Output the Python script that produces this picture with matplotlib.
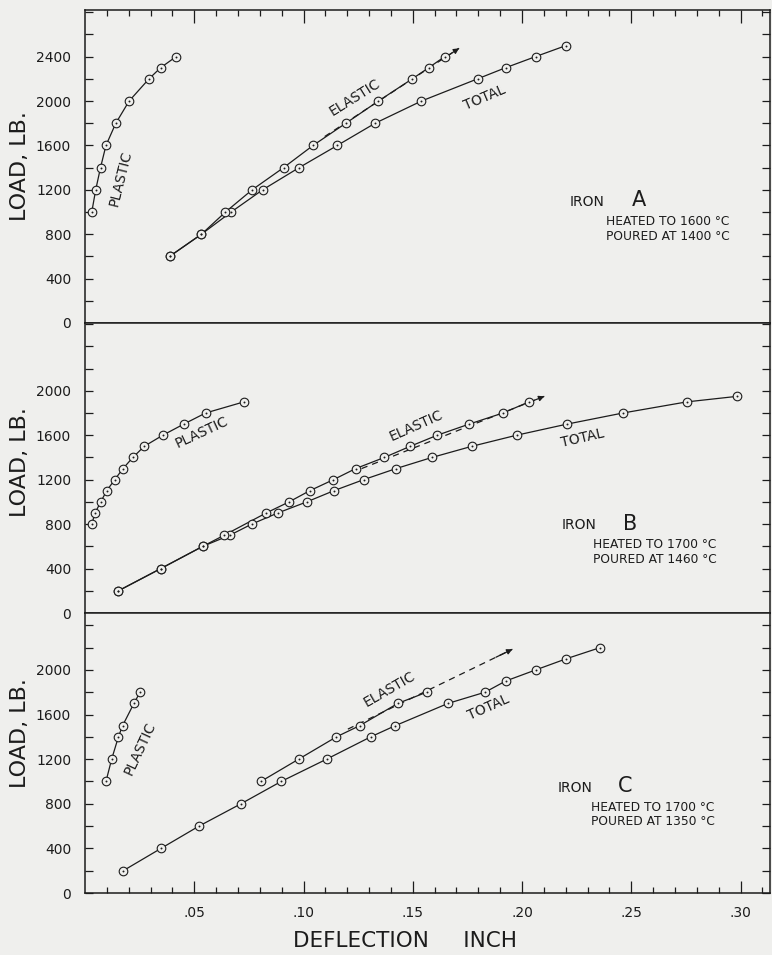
import numpy as np
import matplotlib
matplotlib.use("Agg")
import matplotlib.pyplot as plt
from matplotlib.ticker import FixedLocator, MultipleLocator, FuncFormatter

# ---------------- data (deflection in inches, load in lb) ----------------
# Iron A
a_plastic_x = [0.0031, 0.0049, 0.0071, 0.0096, 0.0141, 0.0202, 0.0293, 0.0346, 0.0417]
a_plastic_y = [1000, 1200, 1400, 1600, 1800, 2000, 2200, 2300, 2400]
a_elastic_x = [0.0387, 0.0533, 0.0643, 0.0765, 0.0909, 0.1044, 0.1194, 0.1343, 0.1498, 0.1573, 0.1646]
a_elastic_y = [600, 800, 1000, 1200, 1400, 1600, 1800, 2000, 2200, 2300, 2400]
a_total_x = [0.0387, 0.0533, 0.0669, 0.0813, 0.0980, 0.1155, 0.1328, 0.1540, 0.1797, 0.1925, 0.2062, 0.2202]
a_total_y = [600, 800, 1000, 1200, 1400, 1600, 1800, 2000, 2200, 2300, 2400, 2500]
a_tangent_x = [0.1097, 0.1712]
a_tangent_y = [1680, 2475]

# Iron B
b_plastic_x = [0.0031, 0.0046, 0.0072, 0.0099, 0.0136, 0.0174, 0.0219, 0.0271, 0.0356, 0.0452, 0.0552, 0.0727]
b_plastic_y = [800, 900, 1000, 1100, 1200, 1300, 1400, 1500, 1600, 1700, 1800, 1900]
b_elastic_x = [0.0153, 0.0347, 0.0539, 0.0637, 0.0829, 0.0934, 0.1028, 0.1137, 0.1239, 0.1370,
               0.1488, 0.1612, 0.1758, 0.1913, 0.2032]
b_elastic_y = [200, 400, 600, 700, 900, 1000, 1100, 1200, 1300, 1400, 1500, 1600, 1700, 1800, 1900]
b_total_x = [0.0153, 0.0347, 0.0539, 0.0663, 0.0763, 0.0882, 0.1015, 0.1138, 0.1275, 0.1424,
             0.1588, 0.1770, 0.1975, 0.2206, 0.2462, 0.2754, 0.2985]
b_total_y = [200, 400, 600, 700, 800, 900, 1000, 1100, 1200, 1300, 1400, 1500, 1600, 1700, 1800, 1900, 1950]
b_tangent_x = [0.1266, 0.2102]
b_tangent_y = [1300, 1950]

# Iron C
c_plastic_x = [0.0096, 0.0122, 0.0153, 0.0172, 0.0224, 0.0252]
c_plastic_y = [1000, 1200, 1400, 1500, 1700, 1800]
c_elastic_x = [0.0805, 0.0978, 0.1151, 0.1257, 0.1432, 0.1564]
c_elastic_y = [1000, 1200, 1400, 1500, 1700, 1800]
c_total_x = [0.0175, 0.0348, 0.0522, 0.0714, 0.0898, 0.1106, 0.1308, 0.1420, 0.1662, 0.1831,
             0.1925, 0.2063, 0.2203, 0.2358]
c_total_y = [200, 400, 600, 800, 1000, 1200, 1400, 1500, 1700, 1800, 1900, 2000, 2100, 2200]
c_tangent_x = [0.1203, 0.1956]
c_tangent_y = [1469, 2185]

iron_names = ["A", "B", "C"]
heated = ["HEATED TO 1600 °C", "HEATED TO 1700 °C", "HEATED TO 1700 °C"]
poured = ["POURED AT 1400 °C", "POURED AT 1460 °C", "POURED AT 1350 °C"]

x_major = [0.05, 0.10, 0.15, 0.20, 0.25, 0.30]
x_minor = [i / 100 for i in range(1, 32)]
y_labels_top = [0, 400, 800, 1200, 1600, 2000, 2400]
y_labels_low = [0, 400, 800, 1200, 1600, 2000]

# ---------------- style ----------------
BG = "#efefed"
INK = "#1c1c1c"
plt.rcParams["font.family"] = ["DejaVu Sans"]

W, H = 772, 955
fig = plt.figure(figsize=(W / 100, H / 100), dpi=100)
fig.patch.set_facecolor(BG)

L_PX, R_PX = 85, 770
panels_px = [(10, 323), (323, 613), (613, 893)]
ytops = [2820, 2610, 2510]

axes = []
for (t, b), ytop in zip(panels_px, ytops):
    ax = fig.add_axes([L_PX / W, 1 - b / H, (R_PX - L_PX) / W, (b - t) / H])
    ax.set_facecolor(BG)
    ax.set_xlim(0, 0.3135)
    ax.set_ylim(0, ytop)
    for s in ax.spines.values():
        s.set_color(INK)
        s.set_linewidth(1.1)
    axes.append(ax)


def curve(ax, xs, ys):
    ax.plot(xs, ys, color=INK, lw=0.9, zorder=2, solid_capstyle="round")
    ax.plot(xs, ys, ls="none", marker="o", ms=6.2, mfc=BG, mec=INK, mew=0.8, zorder=3)
    ax.plot(xs, ys, ls="none", marker="o", ms=1.4, mfc=INK, mec=INK, mew=0, zorder=4)


def tangent(ax, xs, ys):
    ax.plot(xs, ys, color=INK, lw=0.9, ls=(0, (5, 4)), zorder=1.5)
    x0, x1 = xs
    y0, y1 = ys
    ax.annotate("", xy=(x1, y1), xytext=(x0 + 0.9 * (x1 - x0), y0 + 0.9 * (y1 - y0)),
                arrowprops=dict(arrowstyle="-|>", color=INK, lw=0.9, mutation_scale=8,
                                shrinkA=0, shrinkB=0), zorder=2)


data = [
    (a_plastic_x, a_plastic_y, a_elastic_x, a_elastic_y, a_total_x, a_total_y, a_tangent_x, a_tangent_y),
    (b_plastic_x, b_plastic_y, b_elastic_x, b_elastic_y, b_total_x, b_total_y, b_tangent_x, b_tangent_y),
    (c_plastic_x, c_plastic_y, c_elastic_x, c_elastic_y, c_total_x, c_total_y, c_tangent_x, c_tangent_y),
]

for ax, d in zip(axes, data):
    px, py, ex, ey, tx, ty, gx, gy = d
    tangent(ax, gx, gy)
    curve(ax, tx, ty)
    curve(ax, ex, ey)
    curve(ax, px, py)

# curve labels: (x, y, rotation)
label_pos = [
    {"PLASTIC": (0.0165, 1300, 76), "ELASTIC": (0.1235, 2030, 32), "TOTAL": (0.1830, 2030, 23)},
    {"PLASTIC": (0.0534, 1626, 25), "ELASTIC": (0.1515, 1690, 24), "TOTAL": (0.2278, 1576, 13)},
    {"PLASTIC": (0.0250, 1300, 65), "ELASTIC": (0.1393, 1830, 30), "TOTAL": (0.1845, 1660, 24)},
]
for ax, lp in zip(axes, label_pos):
    for txt, (x, y, r) in lp.items():
        ax.text(x, y, txt, rotation=r, rotation_mode="anchor", ha="center", va="center",
                fontsize=10, color=INK)

# iron annotations (axes fractions)
iron_pos = [
    (0.708, 0.387, 0.799, 0.760, 0.324, 0.276),
    (0.696, 0.303, 0.786, 0.742, 0.235, 0.183),
    (0.690, 0.376, 0.778, 0.738, 0.307, 0.254),
]
for ax, name, h, p, (ix, iy, nx, hx, hy, py_) in zip(axes, iron_names, heated, poured, iron_pos):
    ax.text(ix, iy, "IRON", transform=ax.transAxes, ha="left", va="center", fontsize=10, color=INK)
    ax.text(nx, iy + 0.005, name, transform=ax.transAxes, ha="left", va="center", fontsize=15, color=INK)
    ax.text(hx, hy, h, transform=ax.transAxes, ha="left", va="center", fontsize=8.8, color=INK)
    ax.text(hx, py_, p, transform=ax.transAxes, ha="left", va="center", fontsize=8.8, color=INK)

# ticks
for i, ax in enumerate(axes):
    ax.yaxis.set_major_locator(FixedLocator(y_labels_top if i == 0 else y_labels_low))
    ax.yaxis.set_minor_locator(MultipleLocator(200))
    ax.yaxis.set_major_formatter(FuncFormatter(lambda v, p: f"{int(v)}"))
    ax.tick_params(axis="y", which="both", direction="in", length=6, width=0.9, color=INK,
                   left=True, right=True, labelleft=True, labelright=False,
                   labelsize=10, labelcolor=INK, pad=10)
    ax.xaxis.set_major_locator(FixedLocator(x_major))
    ax.xaxis.set_minor_locator(FixedLocator(x_minor))
    ax.xaxis.set_major_formatter(FuncFormatter(lambda v, p: "." + f"{int(round(v * 100)):02d}"))
    ax.tick_params(axis="x", which="major", direction="in", length=9, width=0.9, color=INK)
    ax.tick_params(axis="x", which="minor", direction="in", length=4.5, width=0.9, color=INK)
    if i == 0:
        ax.tick_params(axis="x", which="both", bottom=False, top=True, labelbottom=False, labeltop=False)
    elif i == 1:
        ax.tick_params(axis="x", which="both", bottom=False, top=False, labelbottom=False)
    else:
        ax.tick_params(axis="x", which="both", bottom=True, top=False, labelbottom=True,
                       labelsize=10, labelcolor=INK, pad=9)
    ax.set_ylabel("LOAD, LB.", fontsize=16, color=INK)

ylabel_y = [0.50, 0.52, 0.57]
for ax, yy in zip(axes, ylabel_y):
    ax.yaxis.set_label_coords(-0.080, yy)

axes[2].set_xlabel("DEFLECTION     INCH", fontsize=15.5, color=INK)
axes[2].xaxis.set_label_coords(0.467, -0.135)

fig.savefig("out.png", dpi=100, facecolor=BG)
